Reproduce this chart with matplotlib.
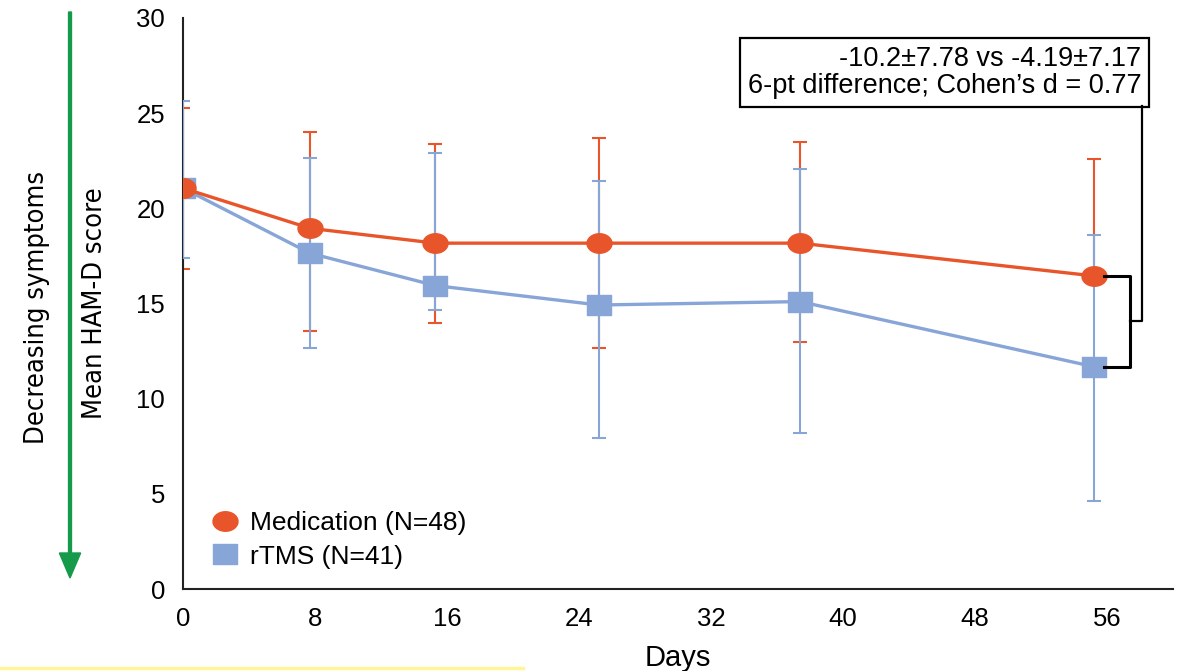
import numpy as np
import matplotlib
matplotlib.use("Agg")
import matplotlib.pyplot as plt
from matplotlib.path import Path
from matplotlib.lines import Line2D

plt.rcParams['font.family'] = ['Liberation Sans', 'DejaVu Sans']

# values
days = [0, 7.7, 15.3, 25.2, 37.4, 55.2]
med_mean = [21.06, 18.95, 18.17, 18.17, 18.17, 16.45]
med_upper = [25.29, 24.03, 23.38, 23.68, 23.50, 22.58]
med_lower = [16.82, 13.57, 13.99, 12.65, 13.00, 16.45]
rtms_mean = [21.06, 17.64, 15.94, 14.92, 15.10, 11.68]
rtms_upper = [25.64, 22.65, 22.93, 21.46, 22.05, 18.60]
rtms_lower = [17.38, 12.65, 14.66, 7.92, 8.21, 4.64]
xticks = [0, 8, 16, 24, 32, 40, 48, 56]
yticks = [0, 5, 10, 15, 20, 25, 30]
med_label = "Medication (N=48)"
rtms_label = "rTMS (N=41)"
note = "-10.2\u00b17.78 vs -4.19\u00b17.17\n6-pt difference; Cohen\u2019s d = 0.77"

orange = "#E9552A"
blue = "#88A5D8"

# stretched markers like the excel original
t = np.linspace(0, 2 * np.pi, 60)
ellipse = Path(np.column_stack([np.cos(t), 0.78 * np.sin(t)]), closed=True)
rect = Path([(-1, -0.82), (1, -0.82), (1, 0.82), (-1, 0.82), (-1, -0.82)], closed=True)

fig = plt.figure(figsize=(11.81, 6.71), dpi=100)
ax = fig.add_axes([0.155, 0.1222, 0.8382, 0.851])

med_err = [np.array(med_mean) - np.array(med_lower), np.array(med_upper) - np.array(med_mean)]
rtms_err = [np.array(rtms_mean) - np.array(rtms_lower), np.array(rtms_upper) - np.array(rtms_mean)]

ax.errorbar(days, med_mean, yerr=med_err, fmt='none', ecolor=orange, elinewidth=1.5,
            capsize=5, capthick=1.5, zorder=2)
ax.errorbar(days, rtms_mean, yerr=rtms_err, fmt='none', ecolor=blue, elinewidth=1.5,
            capsize=5, capthick=1.5, zorder=3)
ax.plot(days, rtms_mean, color=blue, lw=2.4, marker=rect, ms=17.5, mec=blue, mfc=blue, zorder=4)
ax.plot(days, med_mean, color=orange, lw=2.4, marker=ellipse, ms=18, mec=orange, mfc=orange, zorder=5)

ax.set_xlim(0, 60)
ax.set_ylim(0, 30)
ax.set_xticks(xticks)
ax.set_yticks(yticks)
ax.tick_params(length=0, labelsize=18.5)
ax.tick_params(axis='x', pad=13)
ax.tick_params(axis='y', pad=13)
for s in ['top', 'right']:
    ax.spines[s].set_visible(False)
for s in ['left', 'bottom']:
    ax.spines[s].set_linewidth(1.5)
    ax.spines[s].set_color('#222222')

ax.set_xlabel("Days", fontsize=21, labelpad=9)
ax.set_ylabel("Mean HAM-D score", fontsize=19.5, labelpad=20,
              family=['Liberation Sans Narrow', 'DejaVu Sans'], fontstretch='condensed')

# bracket between the two final means
x_end = days[-1]
y1, y2 = med_mean[-1], rtms_mean[-1]
ym = (y1 + y2) / 2
ax.plot([x_end + 0.6, x_end + 2.2, x_end + 2.2, x_end + 0.6], [y1, y1, y2, y2],
        color='black', lw=2.2, zorder=6, clip_on=False)
ax.plot([x_end + 2.2, x_end + 2.9, x_end + 2.9], [ym, ym, 25.4],
        color='black', lw=1.6, zorder=6, clip_on=False)

ax.text(0.968, 0.9046, note, transform=ax.transAxes, ha='right', va='center', fontsize=19.5,
        linespacing=1.08,
        bbox=dict(boxstyle='square,pad=0.3', fc='white', ec='black', lw=1.6))

handles = [Line2D([], [], ls='none', marker=ellipse, ms=18, color=orange),
           Line2D([], [], ls='none', marker=rect, ms=17.5, color=blue)]
ax.legend(handles, [med_label, rtms_label], loc='lower left', bbox_to_anchor=(0.0, -0.006),
          frameon=False, fontsize=19, handletextpad=0.25, labelspacing=0.35, handlelength=1.4)

# left arrow and its label
fig.patches.append(matplotlib.patches.FancyArrow(
    70 / 1181, 1 - 12 / 671, 0, -(566 - 25) / 671, width=0.0025, head_width=0.018,
    head_length=25 / 671, length_includes_head=False, color='#149A4A', transform=fig.transFigure))
fig.text(37 / 1181, 1 - 307 / 671, "Decreasing symptoms", rotation=90, ha='center', va='center',
         fontsize=19.5, family=['Liberation Sans Narrow', 'DejaVu Sans'], fontstretch='condensed')

# yellow strip at the bottom
fig.add_artist(Line2D([0, 523 / 1181], [3 / 671, 3 / 671], color='#FFF59A', lw=2.5,
                      transform=fig.transFigure))

fig.savefig("out.png", dpi=100)
